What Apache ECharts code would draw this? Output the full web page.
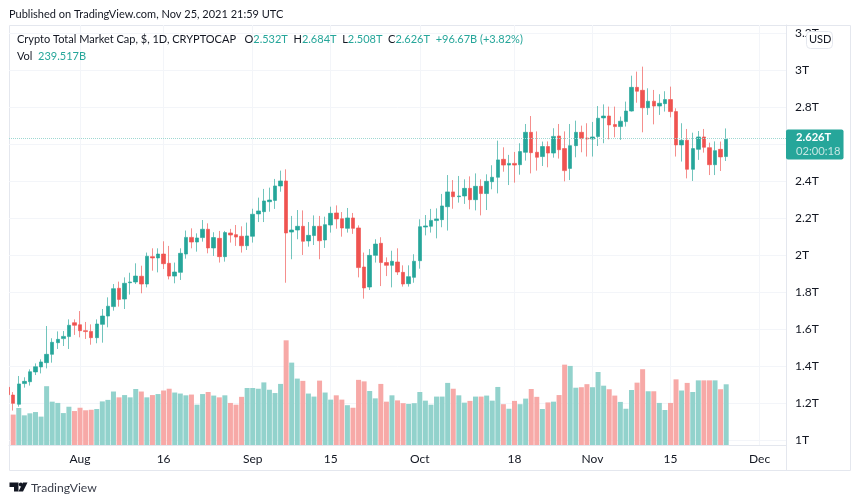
<!DOCTYPE html>
<html>
<head>
<meta charset="utf-8">
<style>html,body{margin:0;padding:0;background:#fff}#main{width:860px;height:504px}</style>
<script src="https://cdn.jsdelivr.net/npm/echarts@6/dist/echarts.min.js"></script>
</head>
<body>
<div id="main"></div>
<script>
// daily candles, Jul 19 to Nov 25 2021, in trillions. x axis counts days from Jul 19
var opens = [1.285,1.243,1.193,1.305,1.315,1.368,1.395,1.418,1.463,1.526,1.548,1.559,1.634,1.623,1.591,1.587,1.553,1.625,1.670,1.721,1.820,1.762,1.850,1.854,1.885,1.843,1.991,1.984,2.005,1.955,1.886,1.906,2.005,2.095,2.070,
	2.094,2.139,2.038,2.090,1.991,2.119,2.110,2.101,2.050,2.101,2.222,2.234,2.288,2.295,2.373,2.400,2.124,2.135,2.155,2.076,2.105,2.155,2.081,2.162,2.227,2.196,2.144,2.200,2.146,1.935,1.827,1.998,2.063,1.959,1.944,1.962,1.906,1.845,1.879,
	1.969,2.151,2.155,2.186,2.191,2.261,2.341,2.315,2.319,2.360,2.299,2.371,2.332,
	2.396,2.420,2.517,2.486,2.495,2.488,2.555,2.663,2.555,2.532,2.586,2.551,2.643,2.575,2.468,2.591,2.663,2.632,2.627,
	2.640,2.741,2.751,2.705,2.694,2.721,2.778,2.906,2.890,2.796,2.831,2.805,2.818,2.840,2.775,2.595,2.620,2.463,2.571,2.638,2.580,2.488,2.571,2.532];
var closes = [1.245,1.198,1.303,1.317,1.369,1.396,1.422,1.463,1.528,1.544,1.560,1.620,1.620,1.591,1.586,1.553,1.627,1.670,1.723,1.818,1.760,1.847,1.854,1.886,1.843,1.993,1.984,2.005,1.953,1.886,1.908,2.009,2.095,2.070,2.092,
	2.139,2.038,2.094,1.991,2.121,2.108,2.097,2.050,2.103,2.220,2.238,2.292,2.297,2.373,2.400,2.119,2.135,2.155,2.074,2.106,2.155,2.077,2.164,2.225,2.195,2.146,2.200,2.144,1.932,1.822,1.998,2.059,1.959,1.944,1.966,1.908,1.843,1.883,1.966,
	2.153,2.157,2.187,2.195,2.265,2.341,2.315,2.319,2.360,2.299,2.371,2.332,2.398,
	2.420,2.514,2.486,2.495,2.486,2.559,2.663,2.553,2.528,2.586,2.551,2.641,2.569,2.456,2.591,2.663,2.629,2.627,2.638,
	2.739,2.751,2.703,2.694,2.723,2.778,2.906,2.885,2.796,2.831,2.805,2.820,2.840,2.775,2.595,2.620,2.463,2.575,2.638,2.582,2.488,2.564,2.530,2.626];
var highs = [1.292,1.259,1.346,1.339,1.382,1.414,1.436,1.616,1.550,1.587,1.589,1.652,1.652,1.697,1.638,1.625,1.652,1.708,1.771,1.843,1.856,1.879,1.904,1.955,1.942,2.013,2.036,2.036,2.074,2.049,1.959,2.036,2.132,2.144,2.117,
	2.189,2.171,2.123,2.130,2.130,2.141,2.162,2.155,2.175,2.250,2.310,2.357,2.364,2.411,2.456,2.463,2.211,2.243,2.241,2.178,2.214,2.211,2.207,2.261,2.268,2.232,2.254,2.227,2.160,2.013,2.032,2.085,2.096,1.987,2.023,2.036,1.944,1.944,2.004,
	2.193,2.216,2.249,2.252,2.330,2.432,2.405,2.427,2.409,2.425,2.441,2.409,2.436,
	2.485,2.618,2.582,2.541,2.557,2.604,2.708,2.751,2.668,2.613,2.614,2.685,2.708,2.668,2.708,2.726,2.699,2.712,2.719,
	2.805,2.814,2.802,2.802,2.748,2.829,2.969,2.991,3.018,2.901,2.892,2.869,2.885,2.910,2.793,2.712,2.681,2.661,2.670,2.681,2.607,2.614,2.613,2.684];
var lows = [1.238,1.159,1.180,1.283,1.294,1.351,1.360,1.387,1.418,1.492,1.508,1.492,1.568,1.555,1.546,1.515,1.523,1.526,1.609,1.699,1.721,1.708,1.786,1.843,1.793,1.825,1.915,1.906,1.924,1.868,1.847,1.865,1.980,2.036,2.018,
	2.072,2.009,1.995,1.959,1.964,2.067,2.049,2.013,2.027,2.067,2.178,2.178,2.234,2.249,2.342,1.850,1.977,2.085,2.000,2.045,2.054,1.977,2.038,2.121,2.142,2.099,2.121,2.114,1.879,1.764,1.811,1.959,1.832,1.886,1.825,1.892,1.829,1.829,1.850,
	1.926,2.106,2.121,2.090,2.150,2.132,2.250,2.283,2.276,2.247,2.241,2.214,2.243,
	2.355,2.333,2.450,2.378,2.391,2.434,2.510,2.441,2.456,2.481,2.474,2.526,2.521,2.398,2.405,2.528,2.555,2.532,2.532,
	2.589,2.604,2.625,2.636,2.622,2.694,2.775,2.823,2.663,2.757,2.706,2.757,2.775,2.744,2.532,2.505,2.414,2.400,2.514,2.553,2.432,2.432,2.454,2.508];
// volume in billions, the Jul 19 bar is off the left edge
var volumes = [null,120,146,117,125,130,112,232,171,166,126,151,134,147,137,139,142,172,178,211,188,197,188,221,211,188,197,201,215,222,207,203,196,199,159,
	201,209,195,188,196,166,159,190,225,225,222,247,218,205,241,413,325,262,253,203,191,254,207,179,196,179,157,147,257,251,213,184,241,171,196,176,165,162,165,
	209,175,159,191,191,245,222,196,167,174,191,191,195,
	175,229,161,143,174,161,183,221,190,142,168,171,197,317,312,226,228,240,228,
	288,234,220,195,170,143,217,246,299,212,212,166,138,166,259,215,245,209,255,255,255,255,220,239.517];

var priceTicks = [1,1.2,1.4,1.6,1.8,2,2.2,2.4,2.6,2.8,3,3.2];
var timeTicks = [13,28,44,58,74,91,105,119,135];
var timeNames = ['Aug','16','Sep','15','Oct','18','Nov','15','Dec'];

var upColor = '#26a69a';
var downColor = '#ef5350';
var gridColor = '#f3f5f9';
var edgeColor = '#e4e7ee';
var textColor = '#131722';
var fontName = 'Lato';
var legendFont = '11px ' + fontName;

var candles = [];
var volumeBars = [];
for (var i = 0; i < opens.length; i++) {
	candles.push([i, opens[i], closes[i], lows[i], highs[i]]);
	volumeBars.push({
		value: [i, volumes[i]],
		itemStyle: {color: closes[i] >= opens[i] ? '#92d2cc' : '#f7a9a7'}
	});
}
var last = opens.length - 1;

var myChart = echarts.init(document.getElementById('main'), null, {renderer: 'canvas'});
var option = {
	animation: false,
	textStyle: {fontFamily: fontName},
	grid: {left: 9, right: 74, top: 25, bottom: 59, show: false},
	xAxis: {
		type: 'value',
		min: 0.246,
		max: 139.74,
		axisLine: {show: true, lineStyle: {color: edgeColor}},
		axisTick: {show: false, customValues: timeTicks},
		splitLine: {show: true, customValues: timeTicks, lineStyle: {color: gridColor}},
		axisLabel: {
			customValues: timeTicks,
			color: textColor,
			fontSize: 12,
			margin: 8,
			formatter: function (value) {
				return timeNames[timeTicks.indexOf(value)];
			}
		}
	},
	yAxis: [
		{
			type: 'value',
			position: 'right',
			min: 0.973,
			max: 3.243,
			axisLine: {show: true, lineStyle: {color: edgeColor}},
			axisTick: {show: false, customValues: priceTicks},
			splitLine: {show: true, customValues: priceTicks, lineStyle: {color: gridColor}},
			axisLabel: {
				customValues: priceTicks,
				color: textColor,
				fontSize: 12,
				margin: 9,
				formatter: function (value) {
					return value + 'T';
				}
			}
		},
		{
			type: 'value',
			min: 0,
			max: 1657,
			show: false
		}
	],
	series: [
		{
			name: 'Vol',
			type: 'bar',
			yAxisIndex: 1,
			barWidth: 5,
			clip: true,
			z: 1,
			data: volumeBars
		},
		{
			name: 'Crypto Total Market Cap',
			type: 'candlestick',
			yAxisIndex: 0,
			barWidth: 4,
			clip: true,
			z: 2,
			encode: {x: 0, y: [1, 2, 3, 4]},
			itemStyle: {
				color: upColor,
				color0: downColor,
				borderColor: 'rgba(38,166,154,0.65)',
				borderColor0: 'rgba(239,83,80,0.65)',
				borderWidth: 1
			},
			markLine: {
				silent: true,
				symbol: 'none',
				lineStyle: {type: [1, 1], color: '#9fd8d2', width: 1},
				label: {
					show: true,
					position: 'end',
					distance: 0,
					offset: [0, 6],
					backgroundColor: upColor,
					borderRadius: 2,
					padding: [1, 3, 1, 10],
					formatter: '{a|' + closes[last].toFixed(3) + 'T}\n{b|02:00:18}',
					rich: {
						a: {color: '#fff', fontSize: 11.2, fontWeight: 'bold', lineHeight: 14, fontFamily: fontName},
						b: {color: '#c4e6e2', fontSize: 11.2, lineHeight: 14, fontFamily: fontName}
					}
				},
				data: [{yAxis: closes[last]}]
			},
			data: candles
		}
	],
	graphic: [
		// the Jul 19 candle sits mostly past the left edge of the pane
		{type: 'rect', silent: true, z: 50, shape: {x: 0, y: 25, width: 9, height: 420}, style: {fill: '#fff'}},
		{type: 'rect', silent: true, z: 0, shape: {x: 9.5, y: 25.5, width: 841, height: 445}, style: {fill: 'none', stroke: edgeColor, lineWidth: 1}},
		{type: 'line', silent: true, z: 0, shape: {x1: 786.5, y1: 445, x2: 786.5, y2: 471}, style: {stroke: edgeColor, lineWidth: 1}},
		{type: 'text', silent: true, z: 10, x: 9, y: 8.5, style: {text: 'Published on TradingView.com, Nov 25, 2021 21:59 UTC', fill: textColor, font: legendFont}},
		{
			type: 'text', silent: true, z: 10, x: 17, y: 34,
			style: {
				text: 'Crypto Total Market Cap, $, 1D, CRYPTOCAP   {k|O}{v|2.532T}  {k|H}{v|2.684T}  {k|L}{v|2.508T}  {k|C}{v|2.626T}  {v|+96.67B (+3.82%)}',
				fill: textColor,
				font: legendFont,
				rich: {
					k: {fill: textColor, font: legendFont},
					v: {fill: upColor, font: legendFont}
				}
			}
		},
		{
			type: 'text', silent: true, z: 10, x: 17, y: 51,
			style: {
				text: 'Vol  {v|239.517B}',
				fill: textColor,
				font: legendFont,
				rich: {v: {fill: upColor, font: legendFont}}
			}
		},
		{type: 'rect', silent: true, z: 10, shape: {x: 806.5, y: 31.5, width: 26, height: 17, r: 4}, style: {fill: '#fff', stroke: edgeColor, lineWidth: 1}},
		{type: 'text', silent: true, z: 11, x: 809, y: 34, style: {text: 'USD', fill: textColor, font: '11px ' + fontName}},
		{type: 'polygon', silent: true, shape: {points: [[9.5,482.5],[18.5,482.5],[18.5,491.5],[14,491.5],[14,487],[9.5,487]]}, style: {fill: textColor}},
		{type: 'circle', silent: true, shape: {cx: 20.8, cy: 484.6, r: 2}, style: {fill: textColor}},
		{type: 'polygon', silent: true, shape: {points: [[27.5,482.5],[23,491.5],[18.5,491.5],[23,482.5]]}, style: {fill: textColor}},
		{type: 'text', silent: true, x: 31, y: 482, style: {text: 'TradingView', fill: '#3a3e4a', font: '12.2px ' + fontName}}
	]
};
myChart.setOption(option);
</script>
</body>
</html>
